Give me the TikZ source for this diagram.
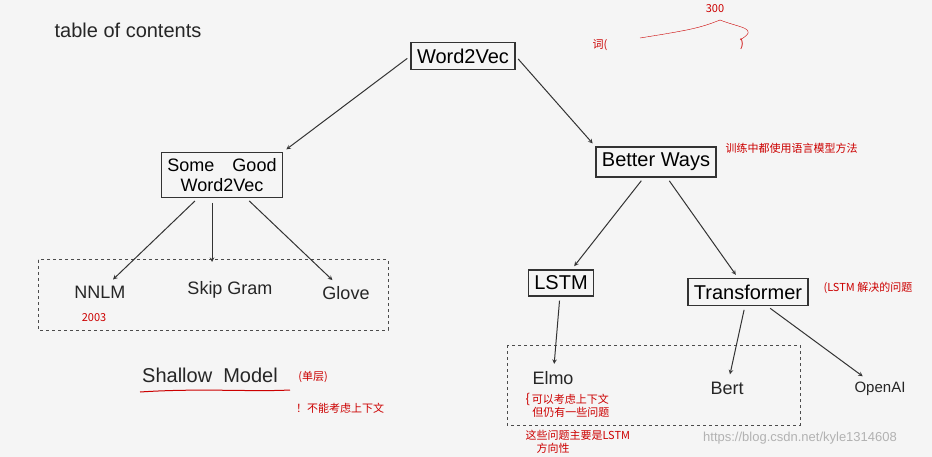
\documentclass[tikz,border=0pt]{standalone}
\usepackage{fontspec}
\setmainfont{Liberation Sans}
\newfontfamily\cjk{Noto Sans CJK SC}
\begin{document}
\begin{tikzpicture}[x=1pt,y=-1pt,
  box/.style={draw=black!80,line width=1.2pt,inner sep=6pt,font=\fontsize{20}{22}\selectfont},
  lab/.style={font=\fontsize{18}{20}\selectfont,text=black!85},
  red/.style={text=red!80!black,font=\cjk\fontsize{11}{13}\selectfont},
  arr/.style={->,line width=1pt,draw=black!80,>=stealth,shorten >=4pt,shorten <=4pt}]
\fill[gray!8] (0,0) rectangle (932,457);
\useasboundingbox (0,0) rectangle (932,457);
\node[lab,font=\fontsize{20}{22}\selectfont] (title) at (128,30) {table of contents};
\node[box] (w2v) at (463,56) {Word2Vec};
\node[box,align=center,font=\fontsize{18}{20}\selectfont] (good) at (222,175) {Some\quad Good\\Word2Vec};
\node[box] (better) at (656,162) {Better Ways};
\node[box] (lstm) at (561,283) {LSTM};
\node[box] (trans) at (748,292) {Transformer};
\node[lab] (nnlm) at (100,292) {NNLM};
\node[lab] (skip) at (230,290) {Skip Gram};
\node[lab] (glove) at (346,293) {Glove};
\node[lab] (elmo) at (553,378) {Elmo};
\node[lab] (bert) at (727,388) {Bert};
\node[lab,font=\fontsize{15}{17}\selectfont] (oai) at (880,389) {OpenAI};
\node[lab,font=\fontsize{20}{22}\selectfont] (shallow) at (210,375) {Shallow\ \ Model};
\draw[red!80!black,line width=1pt] (140,392) .. controls (200,388) and (250,392) .. (290,390);
\draw[dashed,line width=1pt,draw=black!70] (38,260) rectangle (388,330);
\draw[dashed,line width=1pt,draw=black!70] (507,345) rectangle (800,425);
\coordinate (gs) at (212,199);
\coordinate (ss) at (212,266);
\draw[arr] (w2v.west) -- (good.north east);
\draw[arr] (w2v.east) -- (better.north west);
\draw[arr] (good) -- (nnlm);
\draw[arr] (gs) -- (ss);
\draw[arr] (good) -- (glove);
\draw[arr] (better) -- (lstm);
\draw[arr] (better) -- (trans);
\draw[arr] (lstm) -- (elmo);
\draw[arr] (trans) -- (bert);
\draw[arr] (trans) -- (oai);
\node[red] (c1) at (600,45) {词(};
\draw[red!80!black] (640,38) .. controls (690,30) and (700,28) .. (720,20);
\draw[red!80!black] (720,20) .. controls (740,28) and (760,28) .. (740,40);
\node[red] (c2) at (715,9) {300};
\node[red] (c3) at (742,44) {)};
\node[red,anchor=west] (c4) at (722,148) {训练中都使用语言模型方法};
\node[red,anchor=west] (c5) at (820,288) {(LSTM 解决的问题};
\node[red] (c6) at (94,318) {2003};
\node[red] (c7) at (313,377) {(单层)};
\node[red] (c8) at (340,408) {！不能考虑上下文};
\node[red,anchor=west,align=left] (c9) at (522,405) {{\fontsize{13}{13}\selectfont\{}\,可以考虑上下文\\\ \ \,但仍有一些问题};
\node[red,anchor=west,align=left] (c10) at (522,442) {这些问题主要是LSTM\\\quad 方向性};
\node[text=gray!60,font=\fontsize{13}{15}\selectfont] (wm) at (800,438) {https://blog.csdn.net/kyle1314608};
\end{tikzpicture}
\end{document}
